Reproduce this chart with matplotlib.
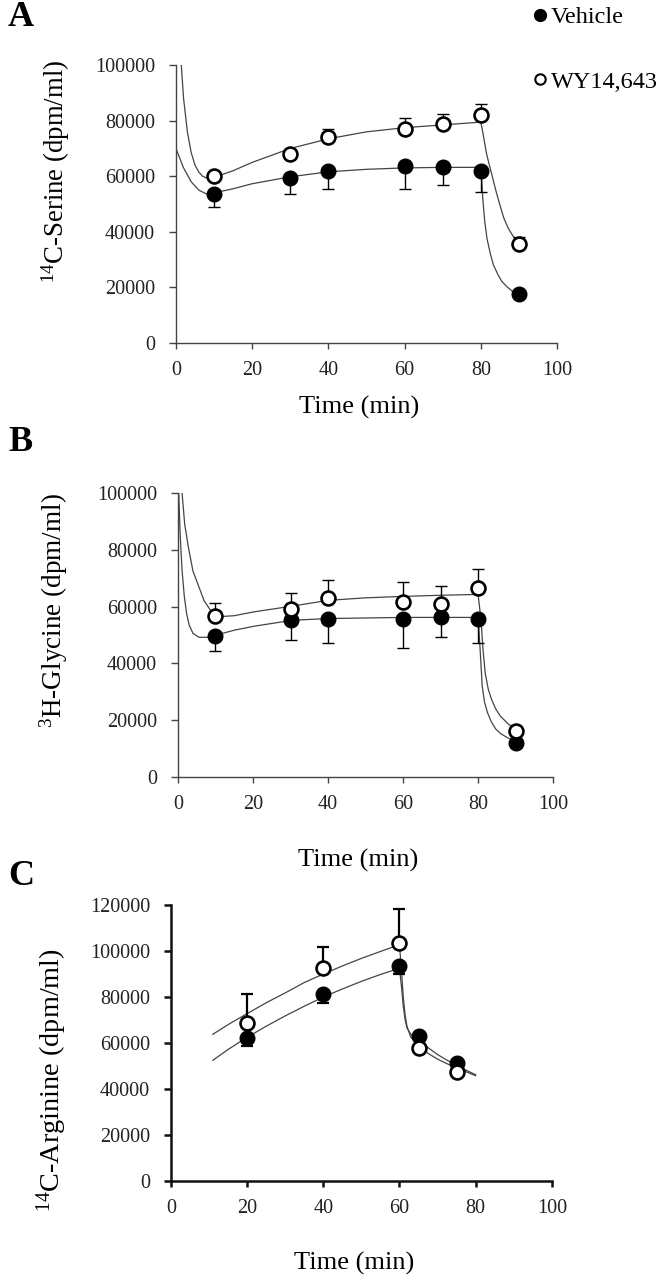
import matplotlib

matplotlib.use("Agg")

import matplotlib.pyplot as plt
from matplotlib.lines import Line2D

plt.rcParams["font.family"] = ["Liberation Serif", "DejaVu Serif"]
plt.rcParams["mathtext.fontset"] = "custom"
plt.rcParams["mathtext.rm"] = "Liberation Serif"

# ---- panel A: 14C-Serine ----
a_time = [10, 30, 40, 60, 70, 80, 90]
a_veh = [53500, 59500, 62000, 63800, 63500, 61800, 17500]
a_veh_err = [4500, 6000, 6500, 8300, 6500, 7600, 0]
a_wy = [60000, 68000, 74000, 77000, 79000, 82000, 35500]
a_wy_err = [0, 0, 3000, 4000, 3500, 4000, 2500]
a_fit_x_veh = [0, 2, 4, 6, 8, 10, 15, 20, 30, 40, 50, 60, 70, 80, 80.5, 81, 81.6,
               82.5, 83.3, 84.5, 85.5, 87, 88.3, 90]
a_fit_veh = [70000, 63000, 58000, 55000, 53600, 54000, 55500, 57300, 59800, 61600,
             62500, 63000, 63200, 63200, 52000, 44000, 37600, 32000, 28000, 24500,
             22100, 20000, 18500, 17300]
a_fit_x_wy = [1.4, 2, 3, 4, 5, 6, 7, 8.6, 10, 15, 20, 30, 40, 50, 60, 70, 80,
              80.5, 81.5, 82.7, 84, 85, 86, 87.2, 88.5, 90]
a_fit_wy = [100000, 88000, 76000, 68500, 64000, 61500, 60000, 59000, 59600, 62000,
            65000, 70000, 73500, 76000, 77500, 78500, 79500, 75900, 68000, 61500,
            54500, 49600, 45000, 41200, 38300, 35800]

# ---- panel B: 3H-Glycine ----
b_time = [10, 30, 40, 60, 70, 80, 90]
b_veh = [49700, 55200, 55800, 55800, 56400, 55800, 11900]
b_veh_err = [5300, 6900, 8700, 10500, 7000, 8700, 0]
b_wy = [56700, 59300, 63000, 61600, 61000, 66600, 16300]
b_wy_err = [4700, 5500, 6400, 7000, 6200, 6700, 0]
b_fit_x_veh = [0.2, 0.6, 1.1, 1.7, 2.3, 3, 4, 5.6, 7.9, 10.2, 15, 20.3, 30.5, 40,
               50, 60, 70, 80, 80.5, 81.1, 81.7, 82.5, 83.5, 84.7, 86, 87.6, 90.2]
b_fit_veh = [100000, 85000, 72700, 63500, 57600, 53500, 50600, 49200, 49200, 50000,
             51700, 53100, 55200, 55800, 56000, 56200, 56200, 56200, 45900, 32000,
             26500, 22700, 19500, 16900, 15300, 14000, 12200]
b_fit_x_wy = [1.1, 1.8, 2.8, 4, 5.6, 7, 9, 11.3, 15, 20, 30.5, 40, 50, 60, 70, 80,
              80.8, 81.3, 81.9, 82.7, 83.6, 84.7, 85.9, 88.1, 90.2]
b_fit_wy = [100000, 89000, 80800, 72500, 66900, 62000, 58100, 56500, 56800, 58100,
            60200, 62200, 63100, 63600, 64000, 64300, 55200, 45000, 36600, 31000,
            27300, 24000, 21500, 18600, 16900]

# ---- panel C: 14C-Arginine ----
c_time = [20, 40, 60, 65, 75]
c_veh = [62000, 81400, 93500, 63000, 51400]
c_veh_err = [3300, 4200, 3600, 0, 3200]
c_wy = [68800, 92500, 103600, 57700, 47500]
c_wy_err = [12600, 9400, 14800, 0, 0]
c_fit_x_veh = [11, 15, 20, 25, 30, 35, 40, 45, 50, 55, 60, 60.5, 61, 61.5, 62, 63,
               65, 67.5, 70, 72.5, 75, 77.5, 80]
c_fit_veh = [52500, 57200, 62500, 67300, 71800, 76000, 80000, 83500, 86800, 89800,
             92500, 85000, 76000, 70000, 66500, 63800, 61500, 58000, 55000, 52500,
             50300, 48200, 46200]
c_fit_x_wy = [11, 15, 20, 25, 30, 35, 40, 45, 50, 55, 60, 60.5, 61, 61.5, 62, 63,
              65, 67.5, 70, 72.5, 75, 77.5, 80]
c_fit_wy = [63800, 68000, 72800, 77500, 81800, 86300, 90000, 93500, 96800, 99800,
            102800, 92000, 80000, 72000, 67000, 62500, 59000, 55500, 53000, 51000,
            49200, 47500, 45800]

panels = [
    dict(letter="A", time=a_time, veh=a_veh, veh_err=a_veh_err, wy=a_wy, wy_err=a_wy_err,
         fx_veh=a_fit_x_veh, f_veh=a_fit_veh, fx_wy=a_fit_x_wy, f_wy=a_fit_wy,
         ylabel=r"$\mathregular{^{14}}$C-Serine (dpm/ml)", ymax=100000,
         rect=[0.265, 0.732, 0.574, 0.217], xlab_y=-0.19, let_y=0.986, elw=1.0,
         ylab_xy=(-0.273, 0.616), ylab_fs=19.3),
    dict(letter="B", time=b_time, veh=b_veh, veh_err=b_veh_err, wy=b_wy, wy_err=b_wy_err,
         fx_veh=b_fit_x_veh, f_veh=b_fit_veh, fx_wy=b_fit_x_wy, f_wy=b_fit_wy,
         ylabel=r"$\mathregular{^{3}}$H-Glycine (dpm/ml)", ymax=100000,
         rect=[0.268, 0.3925, 0.565, 0.222], xlab_y=-0.255, let_y=0.654, elw=1.0,
         ylab_xy=(-0.288, 0.586), ylab_fs=19.5),
    dict(letter="C", time=c_time, veh=c_veh, veh_err=c_veh_err, wy=c_wy, wy_err=c_wy_err,
         fx_veh=c_fit_x_veh, f_veh=c_fit_veh, fx_wy=c_fit_x_wy, f_wy=c_fit_wy,
         ylabel=r"$\mathregular{^{14}}$C-Arginine (dpm/ml)", ymax=120000,
         rect=[0.2575, 0.0766, 0.5735, 0.2158], xlab_y=-0.255, let_y=0.315, elw=1.6,
         ylab_xy=(-0.268, 0.366), ylab_fs=20.3),
]

fig = plt.figure(figsize=(6.64, 12.79), dpi=100)

for p in panels:
    ax = fig.add_axes(p["rect"])
    ax.plot(p["fx_veh"], p["f_veh"], color="#444444", lw=0.9, zorder=2)
    ax.plot(p["fx_wy"], p["f_wy"], color="#444444", lw=0.9, zorder=2)

    ax.errorbar(p["time"], p["veh"], yerr=[p["veh_err"], [0] * len(p["time"])],
                fmt="none", ecolor="black", elinewidth=p["elw"], capsize=4,
                capthick=p["elw"], zorder=3)
    ax.errorbar(p["time"], p["wy"], yerr=[[0] * len(p["time"]), p["wy_err"]],
                fmt="none", ecolor="black", elinewidth=p["elw"], capsize=4,
                capthick=p["elw"], zorder=3)
    ax.plot(p["time"], p["veh"], ls="none", marker="o", ms=10.5, mfc="black",
            mec="black", zorder=4)
    ax.plot(p["time"], p["wy"], ls="none", marker="o", ms=10, mfc="white",
            mec="black", mew=1.9, zorder=5)

    ax.set_xlim(0, 100)
    ax.set_ylim(0, p["ymax"])
    ax.set_xticks(range(0, 101, 20))
    ax.set_yticks(range(0, p["ymax"] + 1, 20000))
    for side in ("top", "right"):
        ax.spines[side].set_visible(False)
    spw = 1.8 if p["letter"] == "C" else 1.0
    sc = "#111111" if p["letter"] == "C" else "#444444"
    for side in ("left", "bottom"):
        ax.spines[side].set_linewidth(spw)
        ax.spines[side].set_color(sc)
    ax.tick_params(direction="out", width=spw, labelsize=14.5, color=sc,
                   labelcolor="#222222")
    ax.tick_params(axis="y", length=5, pad=10)
    ax.tick_params(axis="x", length=4, pad=9)
    ax.set_ylabel(p["ylabel"], fontsize=p["ylab_fs"])
    ax.yaxis.set_label_coords(*p["ylab_xy"])
    ax.set_xlabel("Time (min)", fontsize=19)
    ax.xaxis.set_label_coords(0.48, p["xlab_y"])
    fig.text(0.012, p["let_y"], p["letter"], fontsize=26, fontweight="bold",
             ha="left", va="center")

handles = [
    Line2D([], [], ls="none", marker="o", ms=8.5, mfc="black", mec="black"),
    Line2D([], [], ls="none", marker="o", ms=7.5, mfc="white", mec="black", mew=1.5),
]
fig.legend(handles, ["Vehicle", "WY14,643"], loc="upper right",
           bbox_to_anchor=(1.0, 1.0), frameon=False, fontsize=17.5,
           labelspacing=1.75, handlelength=0.5, handletextpad=0.2,
           borderaxespad=0.0, borderpad=0.25)

fig.savefig("out.png", dpi=100)
